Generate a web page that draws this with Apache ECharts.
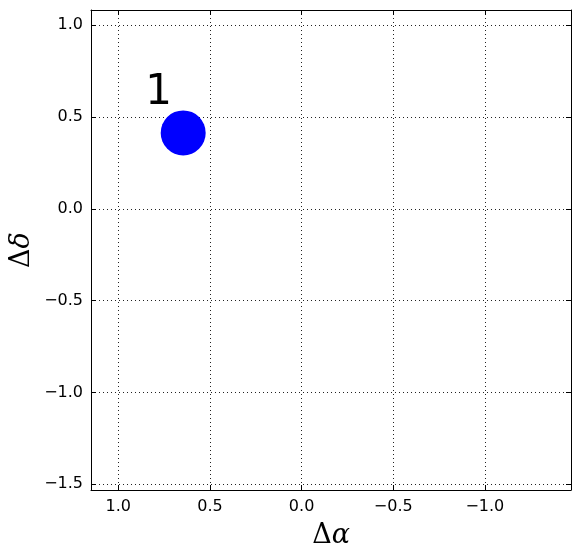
<!DOCTYPE html>
<html>
<head>
<meta charset="utf-8">
<script src="https://cdn.jsdelivr.net/npm/echarts@6/dist/echarts.min.js"></script>
<style>
  html, body { margin: 0; padding: 0; background: #fff; }
  #chart { width: 580px; height: 558px; }
</style>
</head>
<body>
<div id="chart"></div>
<script>
// data
const pointLabels = ['1'];
const deltaAlpha = [0.646];
const deltaDelta = [0.413];

const xTicks = [1.0, 0.5, 0.0, -0.5, -1.0];
const yTicks = [1.0, 0.5, 0.0, -0.5, -1.0, -1.5];
const xRange = [-1.47, 1.149];
const yRange = [-1.531, 1.082];

const fmt = v => (v < 0 ? '\u2212' : '') + Math.abs(v).toFixed(1);

const chart = echarts.init(document.getElementById('chart'));

function makeX(position, main) {
  return {
    type: 'value',
    position,
    inverse: true,
    min: xRange[0],
    max: xRange[1],
    axisLine: { show: true, onZero: false, lineStyle: { color: '#000', width: 1 } },
    axisTick: { show: true, inside: true, length: 5, customValues: xTicks, lineStyle: { color: '#000' } },
    axisLabel: {
      show: main, customValues: xTicks, formatter: fmt, margin: 9,
      color: '#000', fontSize: 16, fontFamily: 'DejaVu Sans'
    },
    splitLine: {
      show: main,
      lineStyle: { color: '#222', type: [1, 3], width: 1 }
    },
    name: main ? '{d|\u0394}{a|\u03b1}' : '',
    nameLocation: 'middle',
    nameGap: 32,
    nameTextStyle: {
      rich: {
        d: { fontFamily: 'DejaVu Serif', fontSize: 27, color: '#000' },
        a: { fontFamily: 'DejaVu Serif', fontStyle: 'italic', fontSize: 27, color: '#000' }
      }
    }
  };
}

function makeY(position, main) {
  return {
    type: 'value',
    position,
    min: yRange[0],
    max: yRange[1],
    axisLine: { show: true, onZero: false, lineStyle: { color: '#000', width: 1 } },
    axisTick: { show: true, inside: true, length: 5, customValues: yTicks, lineStyle: { color: '#000' } },
    axisLabel: {
      show: main, customValues: yTicks, formatter: fmt, margin: 8,
      color: '#000', fontSize: 16, fontFamily: 'DejaVu Sans'
    },
    splitLine: {
      show: main,
      lineStyle: { color: '#222', type: [1, 3], width: 1 }
    },
    name: main ? '{d|\u0394}{a|\u03b4}' : '',
    nameLocation: 'middle',
    nameGap: 56,
    nameMoveOverlap: false,
    nameRotate: 90,
    nameTextStyle: {
      rich: {
        d: { fontFamily: 'DejaVu Serif', fontSize: 27, color: '#000' },
        a: { fontFamily: 'DejaVu Serif', fontStyle: 'italic', fontSize: 27, color: '#000' }
      }
    }
  };
}

chart.setOption({
  animation: false,
  backgroundColor: '#fff',
  grid: { left: 91, right: 9, top: 10, bottom: 68, show: false, containLabel: false, outerBoundsMode: 'none' },
  xAxis: [makeX('bottom', true), makeX('top', false)],
  yAxis: [makeY('left', true), makeY('right', false)],
  series: [{
    type: 'scatter',
    xAxisIndex: 0,
    yAxisIndex: 0,
    symbol: 'circle',
    symbolSize: 45,
    itemStyle: { color: '#0000ff', opacity: 1 },
    data: deltaAlpha.map((x, i) => ({ value: [x, deltaDelta[i]], name: pointLabels[i] })),
    label: {
      show: true,
      formatter: p => p.name,
      position: [-2, -17],
      align: 'center',
      verticalAlign: 'middle',
      fontFamily: 'DejaVu Sans',
      fontSize: 42,
      color: '#000',
      opacity: 1
    }
  }]
});
</script>
</body>
</html>
